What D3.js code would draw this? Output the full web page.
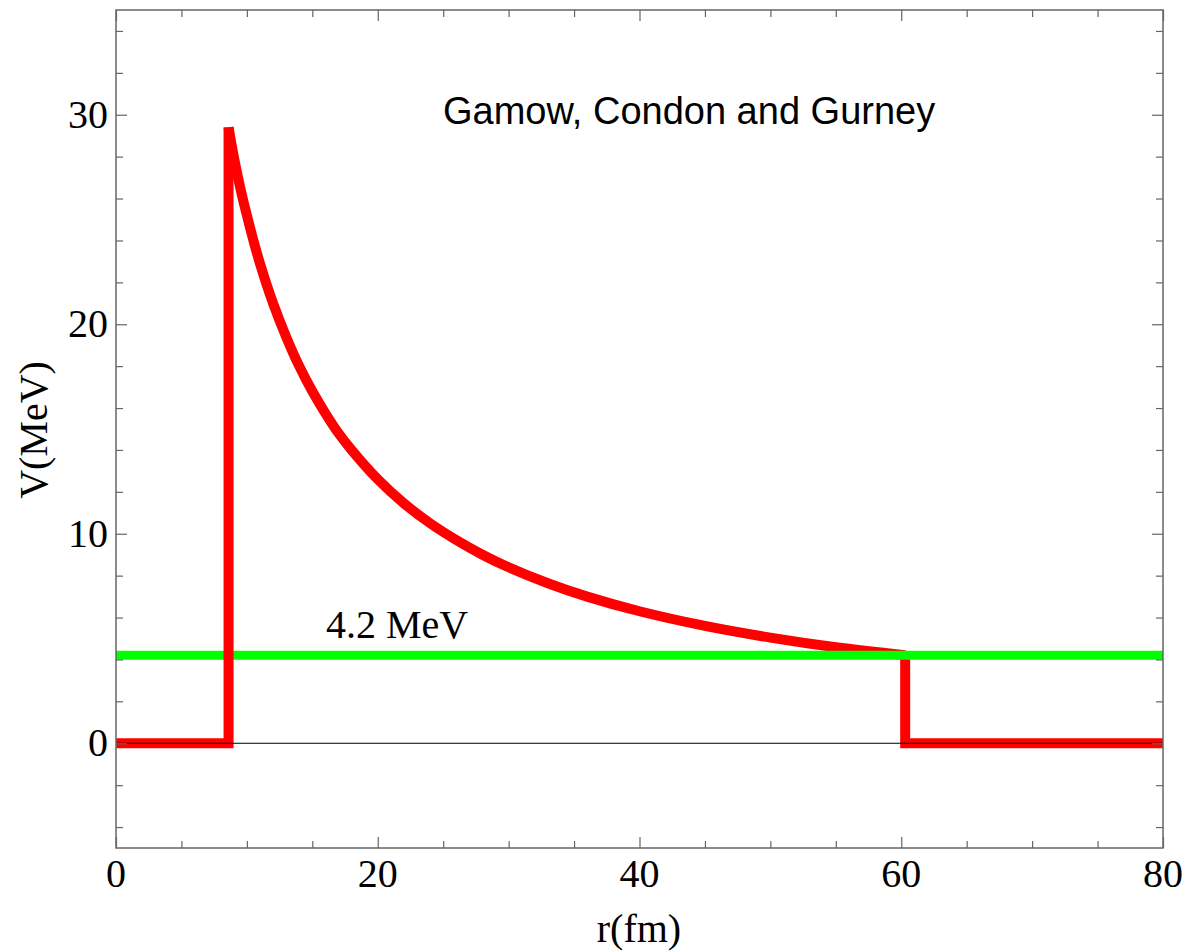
<!DOCTYPE html>
<html>
<head>
<meta charset="utf-8">
<script src="https://cdn.jsdelivr.net/npm/d3@7"></script>
<style>
  html, body { margin: 0; padding: 0; background: #fff; }
  svg { display: block; }
</style>
</head>
<body>
<svg id="chart" width="1188" height="952"></svg>
<script>
// Coulomb barrier samples (r in fm, V in MeV)
const barrierR = [8.6, 9, 9.5, 10, 10.5, 11, 12, 13, 14, 15, 16, 17, 18, 20, 22, 24, 26, 28, 30, 33, 36, 40, 45, 50, 55, 60.3];
const barrierV = [29.4, 28.0, 26.5, 25.2, 24.0, 22.9, 21.0, 19.4, 18.0, 16.8, 15.75, 14.8, 14.0, 12.6, 11.45, 10.5, 9.7, 9.0, 8.4, 7.64, 7.0, 6.3, 5.6, 5.04, 4.58, 4.2];

// Step pieces: inside the nucleus and outside the barrier
const innerR = [0, 8.6, 8.6];
const innerV = [0, 0, 29.4];
const outerR = [60.3, 60.3, 80];
const outerV = [4.2, 0, 0];

// Alpha-particle energy level
const energyLevel = 4.2;
const energyLabel = "4.2 MeV";

const xTicks = [0, 20, 40, 60, 80];
const yTicks = [0, 10, 20, 30];
const xMinorTicks = [5, 10, 15, 25, 30, 35, 45, 50, 55, 65, 70, 75];
const yMinorTicks = [-4, -2, 2, 4, 6, 8, 12, 14, 16, 18, 22, 24, 26, 28, 32, 34];

const titleText = "Gamow, Condon and Gurney";
const xTitle = "r(fm)";
const yTitle = "V(MeV)";

(function draw() {
  const svg = d3.select("#chart");
  const pLeft = 116, pRight = 1163, pTop = 10, pBottom = 848;

  const x = d3.scaleLinear().domain([0, 80]).range([pLeft, pRight]);
  const y = d3.scaleLinear().domain([-5, 35]).range([pBottom, pTop]);

  const serif = "'Liberation Serif', 'Times New Roman', serif";
  const sans = "'Liberation Sans', Arial, sans-serif";
  const frameColor = "#666";

  const toPts = (rs, vs) => rs.map((r, i) => [r, vs[i]]);
  const lineLin = d3.line().x(d => x(d[0])).y(d => y(d[1]));
  const lineSmooth = d3.line().x(d => x(d[0])).y(d => y(d[1])).curve(d3.curveCatmullRom.alpha(0.5));

  const red = "#ff0000";
  const green = "#00ff00";
  const lw = 10;

  // Barrier curve and outer step
  svg.append("path").attr("d", lineSmooth(toPts(barrierR, barrierV)))
    .attr("fill", "none").attr("stroke", red).attr("stroke-width", lw).attr("stroke-linecap", "butt");
  svg.append("path").attr("d", lineLin(toPts(outerR, outerV)))
    .attr("fill", "none").attr("stroke", red).attr("stroke-width", lw)
    .attr("stroke-linejoin", "miter").attr("stroke-linecap", "butt");

  // Energy level line
  svg.append("path").attr("d", lineLin([[0, energyLevel], [80, energyLevel]]))
    .attr("fill", "none").attr("stroke", green).attr("stroke-width", lw - 1);

  // Inner step with vertical wall
  svg.append("path").attr("d", lineLin(toPts(innerR, innerV)))
    .attr("fill", "none").attr("stroke", red).attr("stroke-width", lw)
    .attr("stroke-linejoin", "miter").attr("stroke-linecap", "butt");

  // Zero line
  svg.append("line")
    .attr("x1", pLeft).attr("x2", pRight).attr("y1", y(0)).attr("y2", y(0))
    .attr("stroke", "#000").attr("stroke-width", 1);

  // Frame
  svg.append("rect").attr("x", pLeft).attr("y", pTop)
    .attr("width", pRight - pLeft).attr("height", pBottom - pTop)
    .attr("fill", "none").attr("stroke", frameColor).attr("stroke-width", 1.5);

  // Inward ticks on all four sides
  const makers = [
    [() => d3.axisBottom(x), `translate(0,${pBottom})`, true],
    [() => d3.axisTop(x), `translate(0,${pTop})`, true],
    [() => d3.axisLeft(y), `translate(${pLeft},0)`, false],
    [() => d3.axisRight(y), `translate(${pRight},0)`, false]
  ];
  makers.forEach(([mk, pos, isX]) => {
    [[isX ? xTicks : yTicks, -11], [isX ? xMinorTicks : yMinorTicks, -7]].forEach(([vals, size]) => {
      const g = svg.append("g").attr("transform", pos)
        .call(mk().tickValues(vals).tickSize(size).tickFormat(""));
      g.select(".domain").remove();
      g.selectAll("line").attr("stroke", frameColor).attr("stroke-width", 1.2);
    });
  });

  // Tick labels
  svg.append("g").selectAll("text").data(xTicks).join("text")
    .attr("x", d => x(d)).attr("y", 887)
    .attr("text-anchor", "middle")
    .attr("font-family", serif).attr("font-size", 40)
    .text(d => d);
  svg.append("g").selectAll("text").data(yTicks).join("text")
    .attr("x", 108).attr("y", d => y(d) + 13)
    .attr("text-anchor", "end")
    .attr("font-family", serif).attr("font-size", 40)
    .text(d => d);

  // Axis titles
  svg.append("text").attr("x", 639).attr("y", 942)
    .attr("text-anchor", "middle").attr("font-family", serif).attr("font-size", 40)
    .text(xTitle);
  svg.append("text").attr("transform", "translate(47,430) rotate(-90)")
    .attr("text-anchor", "middle").attr("font-family", serif).attr("font-size", 40)
    .text(yTitle);

  // Annotations
  svg.append("text").attr("x", 326).attr("y", 638)
    .attr("font-family", serif).attr("font-size", 40)
    .text(energyLabel);
  svg.append("text").attr("x", 443).attr("y", 124)
    .attr("font-family", sans).attr("font-size", 38)
    .text(titleText);
})();
</script>
</body>
</html>
